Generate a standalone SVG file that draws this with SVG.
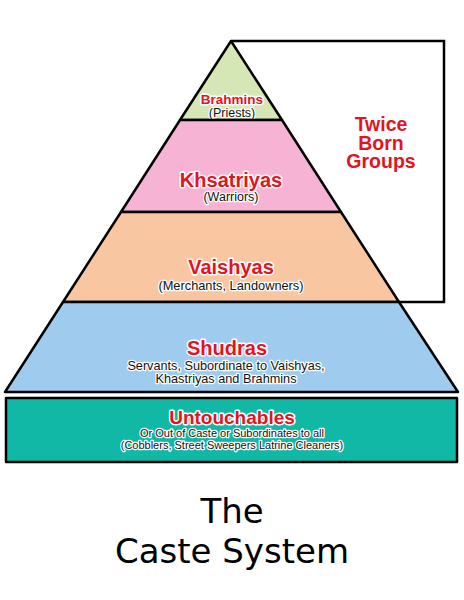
<svg xmlns="http://www.w3.org/2000/svg" width="464" height="600" viewBox="0 0 464 600">
<style>
.tier{stroke:#000;stroke-width:2.5;stroke-linejoin:round}
.h{font-family:"Liberation Sans",Arial,sans-serif;font-weight:bold;fill:#e3141f;text-anchor:middle;paint-order:stroke;stroke:#fff;stroke-width:3;stroke-linejoin:round}
.s{font-family:"Liberation Sans",Arial,sans-serif;fill:#111;text-anchor:middle;paint-order:stroke;stroke:#fff;stroke-width:2.5;stroke-linejoin:round}
.t{font-family:"DejaVu Sans",sans-serif;fill:#000;text-anchor:middle;font-size:34px}
</style>
<rect width="464" height="600" fill="#fff"/>
<g id="connectors">
<path d="M231,41 H444 V302 H398" fill="none" stroke="#000" stroke-width="2.5"/>
</g>
<g id="brahmins">
<polygon class="tier" points="231,41 282,120 180,120" fill="#d6e7b6"/>
<text class="h" x="232" y="104" font-size="13.5">Brahmins</text>
<text class="s" x="232" y="117" font-size="12.5">(Priests)</text>
</g>
<g id="khsatriyas">
<polygon class="tier" points="180,120 282,120 341,212 121,212" fill="#f6b3d3"/>
<text class="h" x="231" y="187" font-size="20">Khsatriyas</text>
<text class="s" x="231" y="201" font-size="12.5">(Warriors)</text>
</g>
<g id="vaishyas">
<polygon class="tier" points="121,212 341,212 399,302 63,302" fill="#f9c6a2"/>
<text class="h" x="231" y="274" font-size="20">Vaishyas</text>
<text class="s" x="231" y="290" font-size="12.8">(Merchants, Landowners)</text>
</g>
<g id="shudras">
<polygon class="tier" points="63,302 399,302 458,392 5,392" fill="#9ecbee"/>
<text class="h" x="227" y="355" font-size="20">Shudras</text>
<text class="s" x="226" y="370" font-size="12.7">Servants, Subordinate to Vaishyas,</text>
<text class="s" x="226" y="383" font-size="12.7">Khastriyas and Brahmins</text>
</g>
<g id="untouchables">
<rect class="tier" x="6" y="398" width="451" height="64" fill="#10b8a5" stroke-width="3"/>
<text class="h" x="232" y="424" font-size="19">Untouchables</text>
<text class="s" x="232" y="437" font-size="11">Or Out of Caste or Subordinates to all</text>
<text class="s" x="232" y="449" font-size="11">(Cobblers, Street Sweepers Latrine Cleaners)</text>
</g>
<g id="twice-born">
<text class="h" x="381" y="131" font-size="19.5">Twice</text>
<text class="h" x="381" y="150" font-size="19.5">Born</text>
<text class="h" x="381" y="168" font-size="19.5">Groups</text>
</g>
<g id="title">
<text class="t" x="232" y="523">The</text>
<text class="t" x="232" y="563">Caste System</text>
</g>
</svg>
